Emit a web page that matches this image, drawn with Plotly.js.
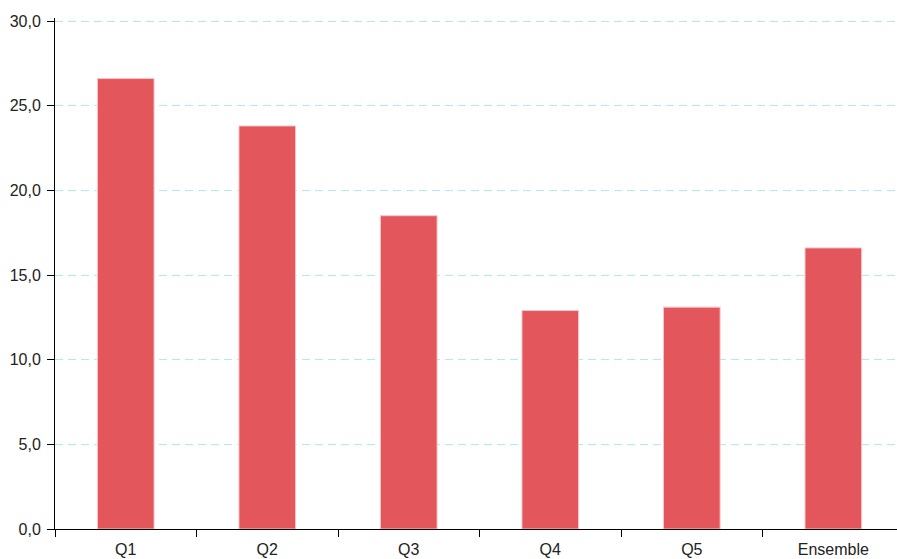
<!DOCTYPE html>
<html><head><meta charset="utf-8">
<script src="https://cdn.plot.ly/plotly-3.0.1.min.js"></script>
<style>html,body{margin:0;padding:0;background:#fff}#chart{width:897px;height:559px}</style>
</head><body><div id="chart"></div>
<script>
const categories = ["Q1", "Q2", "Q3", "Q4", "Q5", "Ensemble"];
const values = [26.6, 23.8, 18.5, 12.9, 13.1, 16.6];
const yTicks = [0, 5, 10, 15, 20, 25, 30];

const trace = {
  type: 'bar', x: categories, y: values, width: 0.4,
  marker: {color: '#e2565c', line: {color: '#f7c4c6', width: 1}},
  hoverinfo: 'skip'
};
const layout = {
  width: 897, height: 559,
  margin: {l: 55, r: 0, t: 18, b: 30},
  separators: ', ',
  paper_bgcolor: '#fff', plot_bgcolor: '#fff',
  font: {family: 'Liberation Sans, Arial, sans-serif', size: 16, color: '#222'},
  showlegend: false,
  xaxis: {
    type: 'category', range: [-0.5, 5.45], tickson: 'boundaries',
    ticks: 'outside', ticklen: 7, tickcolor: '#000', tickwidth: 1,
    ticklabelstandoff: 6,
    showline: true, linecolor: '#000', linewidth: 1,
    showgrid: false, zeroline: false, fixedrange: true,
    tickfont: {size: 16, color: '#222'}
  },
  yaxis: {
    range: [0, 30.177], tickvals: yTicks, tickformat: '.1f',
    ticks: 'outside', ticklen: 7, tickcolor: '#000', tickwidth: 1,
    ticklabelstandoff: 3,
    showline: true, linecolor: '#000', linewidth: 1,
    showgrid: true, gridcolor: '#aeeaf7', griddash: '8px,5px', gridwidth: 1,
    zeroline: false, fixedrange: true,
    tickfont: {size: 16, color: '#222'}
  },
  bargap: 0.6
};
Plotly.newPlot('chart', [trace], layout, {displayModeBar: false, staticPlot: true});
</script></body></html>
